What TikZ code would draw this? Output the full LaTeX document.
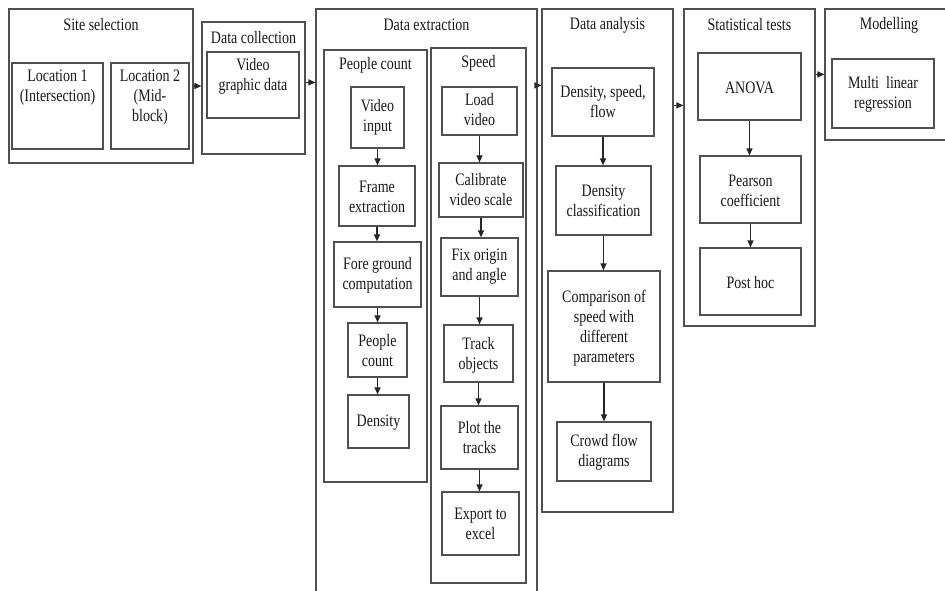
\documentclass[tikz,border=0pt]{standalone}
\usepackage{fontspec}
\setmainfont{Liberation Serif}
\newfontfamily\boxfont[FakeStretch=0.8]{Liberation Serif}
\usetikzlibrary{arrows.meta,calc}
\definecolor{ln}{RGB}{80,80,80}
\definecolor{tx}{RGB}{25,25,25}
\tikzset{
  box/.style={draw=ln, line width=1.2pt, inner sep=0pt, rectangle},
  txt/.style={text=tx, align=center, inner sep=0pt, font=\boxfont\fontsize{17.5}{20}\selectfont},
  arr/.style={draw=black!85, line width=1.2pt, -{Triangle[length=7pt,width=6pt]}}
}
\newcommand\bx[7]{%
  \node[box, minimum width={(#4-#2)*1pt}, minimum height={(#5-#3)*1pt}] (#1) at ({(#2+#4)/2},{(#3+#5)/2}) {};
  \node[txt] (#1t) at ({(#2+#4)/2},#6) {#7};}
\begin{document}
\begin{tikzpicture}[x=1pt,y=-1pt]
\useasboundingbox[fill=white] (0,0) rectangle (945,591);
% containers
\bx{site}{9}{9}{193}{163}{25}{Site selection}
\bx{dcol}{202}{22}{305}{154}{38}{Data collection}
\bx{dext}{316}{9}{537}{605}{25}{Data extraction}
\bx{pc}{324}{50}{427}{482}{65}{People count}
\bx{sp}{431}{48}{526}{583}{63}{Speed}
\bx{dana}{542}{9}{673}{512}{25}{Data analysis}
\bx{stat}{684}{9}{815}{326}{25}{Statistical tests}
\bx{model}{825}{9}{960}{140}{25}{}
\node[txt] (modelt) at (889,25) {Modelling};
% inner boxes
\bx{loc1}{12}{63}{103}{149}{88}{Location 1\\(Intersection)}
\bx{loc2}{111}{63}{189}{149}{98}{Location 2\\(Mid-\\block)}
\bx{vgd}{207}{52}{299}{118}{76}{Video\\graphic data}
\bx{vi}{351}{87}{404}{148}{117}{Video\\input}
\bx{fe}{339}{166}{415}{226}{197}{Frame\\extraction}
\bx{fg}{334}{242}{421}{307}{275}{Fore ground\\computation}
\bx{pcn}{348}{323}{407}{377}{351}{People\\count}
\bx{den}{348}{395}{409}{448}{423}{Density}
\bx{lv}{442}{87}{517}{135}{110}{Load\\video}
\bx{cvs}{439}{163}{523}{217}{190}{Calibrate\\video scale}
\bx{foa}{441}{238}{518}{296}{267}{Fix origin\\and angle}
\bx{tob}{444}{325}{513}{382}{355}{Track\\objects}
\bx{ptt}{441}{406}{518}{469}{438}{Plot the\\tracks}
\bx{ete}{442}{492}{519}{555}{524}{Export to\\excel}
\bx{dsf}{552}{68}{654}{136}{102}{Density, speed,\\flow}
\bx{dc}{556}{166}{651}{235}{201}{Density\\classification}
\bx{cmp}{548}{271}{660}{382}{328}{Comparison of\\speed with\\different\\parameters}
\bx{cfd}{557}{422}{651}{481}{452}{Crowd flow\\diagrams}
\bx{anova}{698}{53}{801}{120}{88}{ANOVA}
\bx{pear}{700}{156}{801}{223}{191}{Pearson\\coefficient}
\bx{ph}{700}{248}{801}{315}{283}{Post hoc}
\bx{mlr}{832}{59}{934}{128}{94}{Multi\ \ linear\\regression}
% horizontal arrows between stages
\draw[arr] (site.east) -- (site.east -| dcol.west);
\draw[arr] ($(dcol.north east)+(0,61)$) coordinate (c1) -- (c1 -| dext.west);
\draw[arr] ($(dext.north east)+(0,77)$) coordinate (c2) -- (c2 -| dana.west);
\draw[arr] ($(dana.north east)+(0,97)$) coordinate (c3) -- (c3 -| stat.west);
\draw[arr] ($(stat.north east)+(0,66)$) coordinate (c4) -- (c4 -| model.west);
% people count chain
\draw[arr] (vi.south) -- (vi.south |- fe.north);
\draw[arr] (fe.south) -- (fe.south |- fg.north);
\draw[arr] (fg.south) -- (fg.south |- pcn.north);
\draw[arr] (pcn.south) -- (pcn.south |- den.north);
% speed chain
\draw[arr] (lv.south) -- (lv.south |- cvs.north);
\draw[arr] (cvs.south) -- (cvs.south |- foa.north);
\draw[arr] (foa.south) -- (foa.south |- tob.north);
\draw[arr] (tob.south) -- (tob.south |- ptt.north);
\draw[arr] (ptt.south) -- (ptt.south |- ete.north);
% analysis chain
\draw[arr] (dsf.south) -- (dsf.south |- dc.north);
\draw[arr] (dc.south) -- (dc.south |- cmp.north);
\draw[arr] (cmp.south) -- (cmp.south |- cfd.north);
% stats chain
\draw[arr] (anova.south) -- (anova.south |- pear.north);
\draw[arr] (pear.south) -- (pear.south |- ph.north);
\end{tikzpicture}
\end{document}
